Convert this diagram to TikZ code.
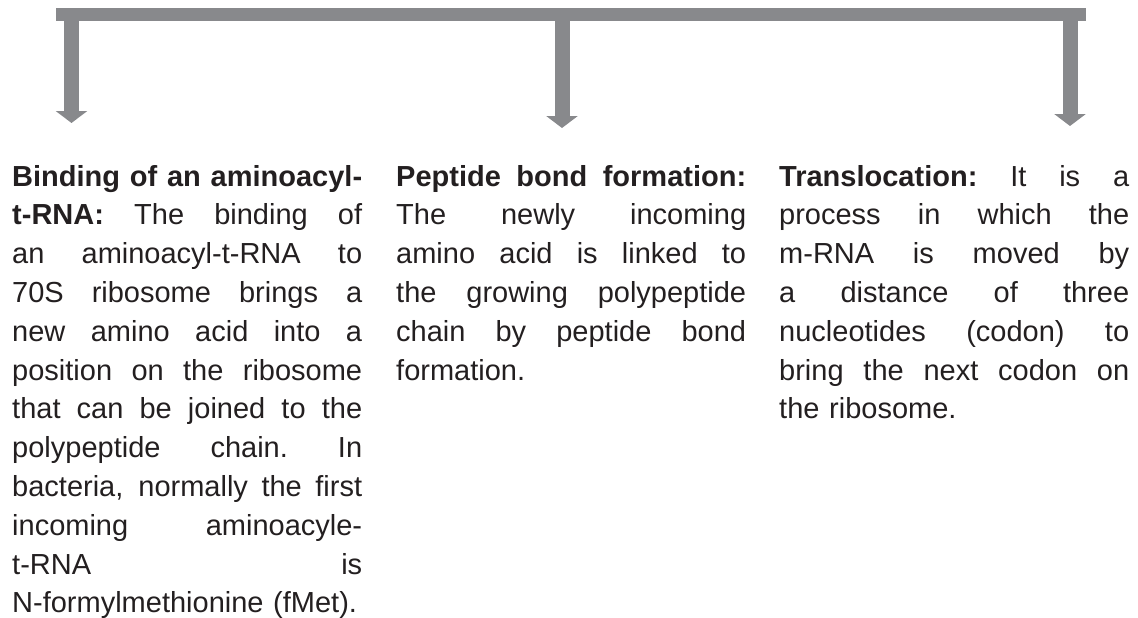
\documentclass[tikz,border=0pt]{standalone}
\usepackage{fontspec}
\setmainfont{Liberation Sans}
\usetikzlibrary{arrows.meta}
\definecolor{bargray}{HTML}{88898C}
\definecolor{ink}{HTML}{231F20}
\newlength{\colw}\setlength{\colw}{350pt}
\newcommand{\jl}[1]{\leavevmode\hbox to \colw{\spaceskip=0.278em plus 1fil\xspaceskip=\spaceskip #1}}
\begin{document}
\begin{tikzpicture}[x=1pt,y=-1pt,
  hbar/.style={draw=bargray, line width=13pt},
  stem/.style={draw=bargray, line width=15pt, -{Triangle[length=12pt 0 0,width=31pt 0 0]}},
  txt/.style={anchor=base west, inner sep=0pt, text width=\colw, align=left, text=ink, font=\fontsize{29}{38.8}\selectfont}]
\useasboundingbox (0,0) rectangle (1138,618);
\coordinate (bl) at (56,14.5);
\coordinate (br) at (1086,14.5);
\coordinate (s1) at (71.5,20);
\coordinate (s2) at (562,20);
\coordinate (s3) at (1070,20);
\coordinate (t1) at (71.5,123);
\coordinate (t2) at (562,128);
\coordinate (t3) at (1070,126);
\draw[hbar] (bl) -- (br);
\draw[stem] (s1) -- (t1);
\draw[stem] (s2) -- (t2);
\draw[stem] (s3) -- (t3);
\node[txt] (c1) at (12,186) {%
\jl{\bfseries Binding of an aminoacyl-}\\
\jl{\textbf{t-RNA:} The binding of}\\
\jl{an aminoacyl-t-RNA to}\\
\jl{70S ribosome brings a}\\
\jl{new amino acid into a}\\
\jl{position on the ribosome}\\
\jl{that can be joined to the}\\
\jl{polypeptide chain. In}\\
\jl{bacteria, normally the first}\\
\jl{incoming aminoacyle-}\\
\jl{t-RNA is}\\
N-formylmethionine (fMet).};
\node[txt] (c2) at (396,186) {%
\jl{\bfseries Peptide bond formation:}\\
\jl{The newly incoming}\\
\jl{amino acid is linked to}\\
\jl{the growing polypeptide}\\
\jl{chain by peptide bond}\\
formation.};
\node[txt] (c3) at (779,186) {%
\jl{\textbf{Translocation:} It is a}\\
\jl{process in which the}\\
\jl{m-RNA is moved by}\\
\jl{a distance of three}\\
\jl{nucleotides (codon) to}\\
\jl{bring the next codon on}\\
the ribosome.};
\end{tikzpicture}
\end{document}
